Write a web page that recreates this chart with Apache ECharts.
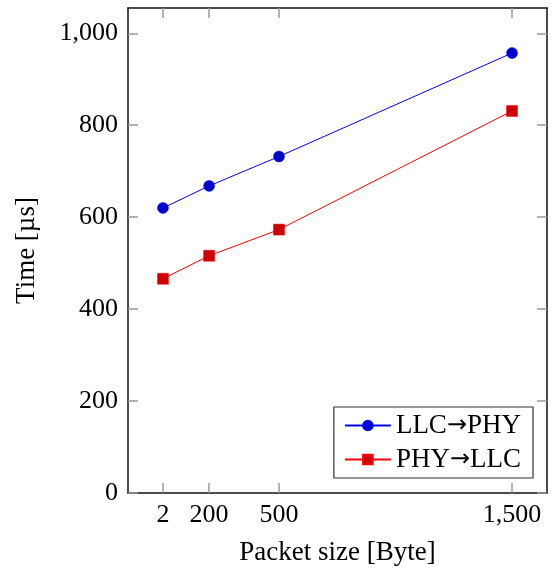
<!DOCTYPE html>
<html>
<head>
<meta charset="utf-8">
<script src="https://cdn.jsdelivr.net/npm/echarts@6/dist/echarts.min.js"></script>
<style>
html, body { margin: 0; padding: 0; background: #fff; }
#container { width: 556px; height: 571px; }
</style>
</head>
<body>
<div id="container"></div>
<script>
var packetSizes = [2, 200, 500, 1500];
var llcToPhy = [620, 668, 732, 957];
var phyToLlc = [466, 516, 573, 831];
var xTicks = [2, 200, 500, 1500];
var yTicks = [0, 200, 400, 600, 800, 1000];

var font = 'Liberation Serif';
var fmt = function (v) { return v.toLocaleString('en-US'); };

var dom = document.getElementById("container");
var myChart = echarts.init(dom);

function pairs(xs, ys) {
    return xs.map(function (x, i) { return [x, ys[i]]; });
}

// one axis; labels only on the main (bottom / left) ones
function axis(pos, ticks, min, max, withLabels) {
    return {
        type: 'value',
        position: pos,
        min: min,
        max: max,
        axisLine: {show: true, onZero: false, lineStyle: {color: '#111', width: 1.5}},
        axisTick: {show: true, inside: true, length: 10, customValues: ticks,
            lineStyle: {color: '#999999', width: 1.5}},
        axisLabel: withLabels
            ? {show: true, customValues: ticks, formatter: fmt, fontFamily: font,
               fontSize: 26, color: '#000', margin: 10}
            : {show: false},
        splitLine: {show: false}
    };
}

var xMain = axis('bottom', xTicks, -148, 1650, true);
xMain.name = 'Packet size [Byte]';
xMain.nameLocation = 'middle';
xMain.nameGap = 46;
xMain.nameTextStyle = {fontFamily: font, fontSize: 27, color: '#000'};
xMain.axisLabel.margin = 9;

var yMain = axis('left', yTicks, 0, 1055, true);
yMain.name = 'Time [µs]';
yMain.nameLocation = 'middle';
yMain.nameGap = 88;
yMain.nameTextStyle = {fontFamily: font, fontSize: 27, color: '#000'};

option = {
    animation: false,
    grid: {left: 128, right: 9, top: 8, bottom: 78, outerBoundsMode: 'none'},
    xAxis: [xMain, axis('top', xTicks, -148, 1650, false)],
    yAxis: [yMain, axis('right', yTicks, 0, 1055, false)],
    legend: {
        orient: 'vertical',
        right: 23,
        bottom: 93,
        backgroundColor: '#fff',
        borderColor: '#333',
        borderWidth: 1.2,
        borderRadius: 0,
        padding: [5, 12, 5, 10],
        itemWidth: 46,
        itemHeight: 12,
        itemGap: 7,
        formatter: function (name) {
            var p = name.split('→');
            return p[0] + '{arrow|→}' + p[1];
        },
        textStyle: {
            fontFamily: font, fontSize: 27, color: '#000',
            rich: {arrow: {fontFamily: 'DejaVu Sans', fontSize: 24, color: '#000'}}
        },
        data: ['LLC→PHY', 'PHY→LLC']
    },
    series: [
        {
            name: 'LLC→PHY',
            type: 'line',
            data: pairs(packetSizes, llcToPhy),
            symbol: 'circle',
            symbolSize: 11,
            lineStyle: {color: '#0000ff', width: 1},
            itemStyle: {color: '#0000cc', borderColor: '#0000ff', borderWidth: 0.5}
        },
        {
            name: 'PHY→LLC',
            type: 'line',
            data: pairs(packetSizes, phyToLlc),
            symbol: 'rect',
            symbolSize: 11,
            lineStyle: {color: '#ff0000', width: 1},
            itemStyle: {color: '#cc0000', borderColor: '#ff0000', borderWidth: 0.5}
        }
    ]
};

if (option && typeof option === "object") {
    myChart.setOption(option, true);
}
</script>
</body>
</html>
